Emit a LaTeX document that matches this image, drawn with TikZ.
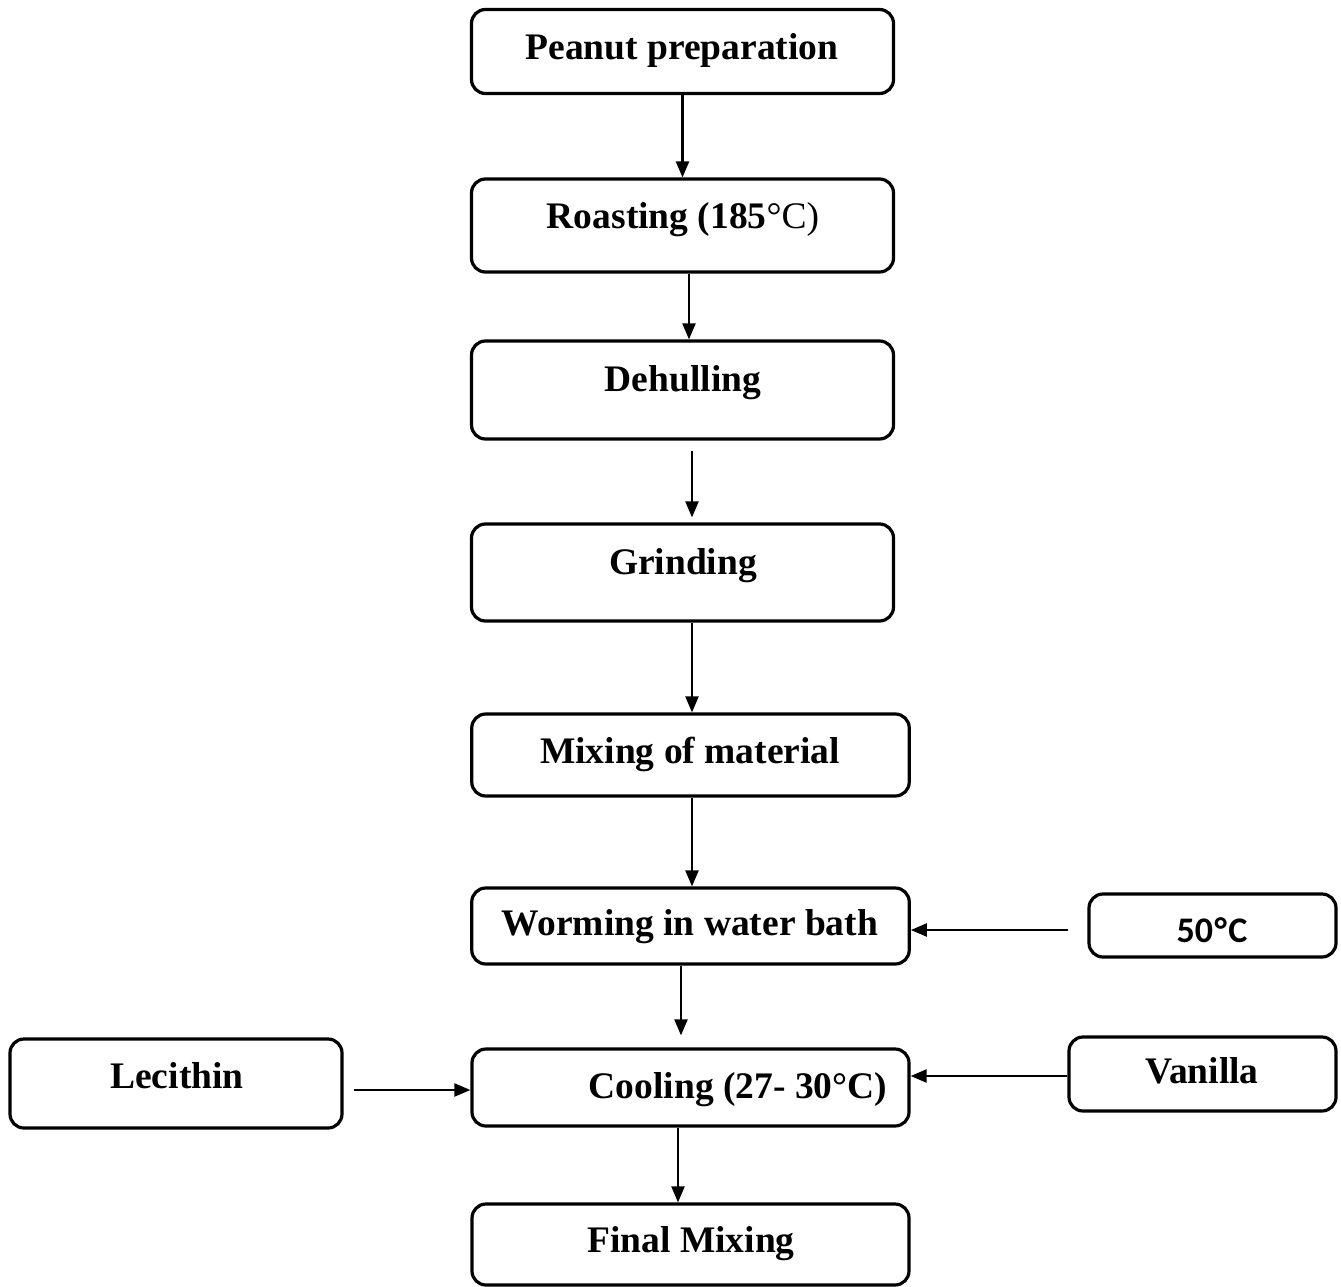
\documentclass[tikz,border=0pt]{standalone}
\usepackage{fontspec}
\setmainfont{Liberation Serif}
\newfontfamily\carl{Carlito}
\usetikzlibrary{arrows.meta,calc}
\begin{document}
\begin{tikzpicture}[x=1pt,y=-1pt,
 box/.style={draw, line width=3.2pt, rounded corners=14pt, inner sep=0pt},
 txt/.style={font=\fontsize{37.5}{44}\selectfont\bfseries, anchor=base, inner sep=0pt},
 arr/.style={line width=2.2pt, -{Triangle[length=16pt,width=13pt]}}]
\useasboundingbox (0,0) rectangle (1341,1287);
% boxes
\node[box, minimum width=422pt, minimum height=84pt] (b1) at (682.5,51.5) {};
\node[box, minimum width=422pt, minimum height=93pt] (b2) at (682.5,225.5) {};
\node[box, minimum width=422pt, minimum height=98pt] (b3) at (682.5,390) {};
\node[box, minimum width=422pt, minimum height=97pt] (b4) at (682.5,572.5) {};
\node[box, minimum width=437.5pt, minimum height=82pt] (b5) at (690.5,755) {};
\node[box, minimum width=437.5pt, minimum height=76pt] (b6) at (690.5,926) {};
\node[box, minimum width=247pt, minimum height=63pt] (b7) at (1212.5,925.5) {};
\node[box, minimum width=437pt, minimum height=77pt] (b8) at (690.5,1087.5) {};
\node[box, minimum width=332pt, minimum height=89pt] (b9) at (176,1083.5) {};
\node[box, minimum width=267pt, minimum height=74pt] (b10) at (1202.5,1074) {};
\node[box, minimum width=437pt, minimum height=81pt] (b11) at (690.5,1244.5) {};
% texts
\node[txt] (t1) at (682,60) {Peanut preparation};
\node[txt] (t2) at (683,228) {Roasting (185\mdseries°C)};
\node[txt] (t3) at (683,391) {Dehulling};
\node[txt] (t4) at (683,574) {Grinding};
\node[txt] (t5) at (690,763) {Mixing of material};
\node[txt] (t6) at (690,935) {Worming in water bath};
\node[txt, font=\carl\fontsize{36}{44}\selectfont\bfseries] (t7) at (1212,942) {50\kern1.5pt°\kern1.5pt C};
\node[txt] (t8) at (738,1098) {Cooling (27- 30°C)};
\node[txt] (t9) at (177,1088) {Lecithin};
\node[txt] (t10) at (1202,1083) {Vanilla};
\node[txt] (t11) at (691,1252) {Final Mixing};
% connectors
\draw[arr] (b1.south) -- (b2.north);
\draw[arr] ([xshift=6.5pt]b2.south) -- ([xshift=6.5pt]b3.north);
\draw[arr, shorten <=10pt, shorten >=5pt] ([xshift=9.5pt]b3.south) -- ([xshift=9.5pt]b4.north);
\draw[arr] ([xshift=9.5pt]b4.south) -- ([xshift=9.5pt]b4.south |- b5.north);
\draw[arr] ([xshift=1.5pt]b5.south) -- ([xshift=1.5pt]b6.north);
\draw[arr, shorten >=12pt] ([xshift=-9.5pt]b6.south) -- ([xshift=-9.5pt]b8.north);
\draw[arr, shorten <=19pt] ([yshift=-4.5pt]b7.west) -- ([yshift=-4.5pt]b7.west -| b6.east);
\draw[arr] ([yshift=-2pt]b10.west) -- ([yshift=-2pt]b10.west -| b8.east);
\draw[arr, shorten <=10pt] ([yshift=-6.5pt]b9.east) -- ([yshift=-6.5pt]b9.east -| b8.west);
\draw[arr] ([xshift=-12.5pt]b8.south) -- ([xshift=-12.5pt]b11.north);
\end{tikzpicture}
\end{document}
